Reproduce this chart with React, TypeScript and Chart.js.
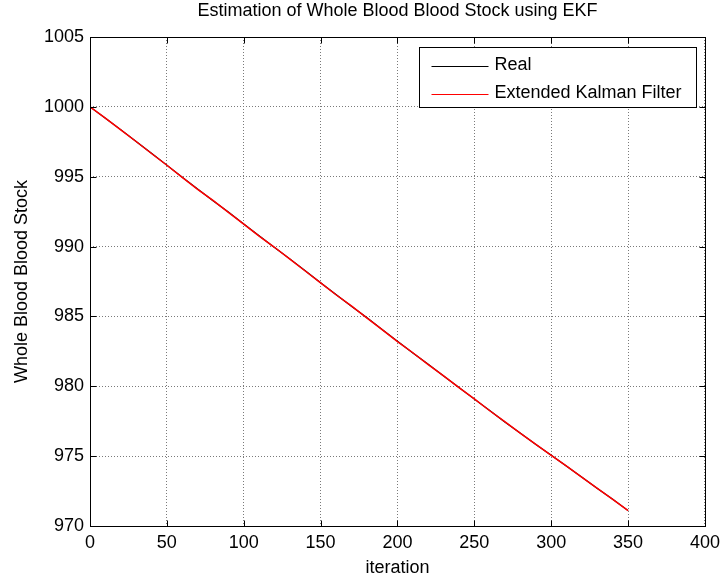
import React, { useEffect, useRef } from "react";
import { Chart, registerables } from "chart.js";

Chart.register(...registerables);

const iterations = [
  0, 10, 20, 30, 40, 50, 60, 70, 80, 90, 100, 110, 120, 130, 140, 150, 160, 170,
  180, 190, 200, 210, 220, 230, 240, 250, 260, 270, 280, 290, 300, 310, 320, 330,
  340, 350,
];

const realStock = [
  1000.0, 999.18, 998.37, 997.52, 996.68, 995.83, 994.96, 994.12, 993.28, 992.47,
  991.61, 990.77, 989.93, 989.12, 988.27, 987.41, 986.57, 985.73, 984.92, 984.06,
  983.22, 982.38, 981.57, 980.73, 979.92, 979.08, 978.27, 977.43, 976.64, 975.84,
  975.06, 974.27, 973.49, 972.69, 971.91, 971.1,
];

const ekfStock = [
  1000.0, 999.2, 998.35, 997.52, 996.66, 995.82, 994.95, 994.1, 993.3, 992.45,
  991.6, 990.75, 989.95, 989.1, 988.25, 987.4, 986.55, 985.75, 984.9, 984.05,
  983.2, 982.4, 981.55, 980.75, 979.9, 979.1, 978.25, 977.45, 976.63, 975.85,
  975.05, 974.28, 973.48, 972.7, 971.9, 971.1,
];

const xTickValues = [0, 50, 100, 150, 200, 250, 300, 350, 400];
const yTickValues = [970, 975, 980, 985, 990, 995, 1000, 1005];

const seriesLabels = ["Real", "Extended Kalman Filter"];
const seriesColors = ["#000000", "#ff0000"];
const titleText = "Estimation of Whole Blood Blood Stock using EKF";
const xAxisLabel = "iteration";
const yAxisLabel = "Whole Blood Blood Stock";

const FONT = "'Liberation Sans', Arial, Helvetica, sans-serif";
const FS = 18;

const matlabFrame = {
  id: "matlabFrame",
  afterDraw(chart: any) {
    const { ctx, chartArea: a, scales } = chart;
    const L = Math.round(a.left) + 0.5;
    const R = Math.round(a.right) + 0.5;
    const T = Math.round(a.top) + 0.5;
    const B = Math.round(a.bottom) + 0.5;
    ctx.save();
    ctx.strokeStyle = "#000";
    ctx.lineWidth = 1;
    ctx.setLineDash([]);
    ctx.strokeRect(L, T, R - L, B - T);
    const tl = 6;
    ctx.beginPath();
    scales.x.ticks.forEach((t: any) => {
      const px = Math.round(scales.x.getPixelForValue(t.value)) + 0.5;
      ctx.moveTo(px, B);
      ctx.lineTo(px, B - tl);
      ctx.moveTo(px, T);
      ctx.lineTo(px, T + tl);
    });
    scales.y.ticks.forEach((t: any) => {
      const py = Math.round(scales.y.getPixelForValue(t.value)) + 0.5;
      ctx.moveTo(L, py);
      ctx.lineTo(L + tl, py);
      ctx.moveTo(R, py);
      ctx.lineTo(R - tl, py);
    });
    ctx.stroke();

    // legend
    ctx.font = `${FS}px ${FONT}`;
    const labels = chart.data.datasets.map((d: any) => d.label);
    const maxW = Math.max(...labels.map((s: string) => ctx.measureText(s).width));
    const padL = 12;
    const lineLen = 57;
    const gap = 6;
    const padR = 15;
    const boxW = padL + lineLen + gap + maxW + padR;
    const boxH = 60;
    const boxRight = Math.round(a.right - 9) + 0.5;
    const boxLeft = Math.round(boxRight - boxW) + 0.5;
    const boxTop = Math.round(a.top + 10) + 0.5;
    ctx.fillStyle = "#fff";
    ctx.fillRect(boxLeft, boxTop, boxRight - boxLeft, boxH);
    ctx.strokeStyle = "#000";
    ctx.strokeRect(boxLeft, boxTop, boxRight - boxLeft, boxH);
    chart.data.datasets.forEach((d: any, i: number) => {
      const cy = boxTop + 18 + i * 28;
      ctx.strokeStyle = d.borderColor;
      ctx.lineWidth = 1;
      ctx.beginPath();
      ctx.moveTo(boxLeft + padL, Math.round(cy) + 0.5);
      ctx.lineTo(boxLeft + padL + lineLen, Math.round(cy) + 0.5);
      ctx.stroke();
      ctx.fillStyle = "#000";
      ctx.textBaseline = "middle";
      ctx.textAlign = "left";
      ctx.fillText(d.label, boxLeft + padL + lineLen + gap, cy);
    });
    ctx.restore();
  },
};

export default function App() {
  const ref = useRef<HTMLCanvasElement | null>(null);

  useEffect(() => {
    document.body.style.margin = "0";
    const canvas = ref.current;
    if (!canvas) return;
    const chart = new Chart(canvas, {
      type: "line",
      data: {
        datasets: [
          {
            label: seriesLabels[0],
            data: iterations.map((x, i) => ({ x, y: realStock[i] })),
            borderColor: seriesColors[0],
            borderWidth: 1.2,
            pointRadius: 0,
            tension: 0,
            order: 1,
          },
          {
            label: seriesLabels[1],
            data: iterations.map((x, i) => ({ x, y: ekfStock[i] })),
            borderColor: seriesColors[1],
            borderWidth: 1.5,
            pointRadius: 0,
            tension: 0,
            order: 0,
          },
        ],
      },
      options: {
        animation: false,
        responsive: false,
        maintainAspectRatio: false,
        layout: { padding: { top: 0, right: 15, left: 0, bottom: 0 } },
        plugins: {
          legend: { display: false },
          tooltip: { enabled: false },
          title: {
            display: true,
            text: titleText,
            color: "#000",
            fullSize: false,
            font: { family: FONT, size: FS, weight: "normal", lineHeight: 1.2 },
            padding: { top: 0, bottom: 15.4 },
          },
        },
        scales: {
          x: {
            type: "linear",
            min: 0,
            max: 400,
            afterBuildTicks: (s: any) => {
              s.ticks = xTickValues.map((v) => ({ value: v }));
            },
            afterFit: (s: any) => {
              s.height = 55;
            },
            grid: { color: "#7a7a7a", lineWidth: 1, drawTicks: false },
            border: { display: false, dash: [1, 2] },
            ticks: {
              color: "#000",
              padding: 6,
              maxRotation: 0,
              autoSkip: false,
              callback: (v: any) => String(v),
              font: { family: FONT, size: FS, lineHeight: 1.2 },
            },
            title: {
              display: true,
              text: xAxisLabel,
              color: "#000",
              font: { family: FONT, size: FS, lineHeight: 1.2 },
              padding: { top: 0, bottom: 2 },
            },
          },
          y: {
            type: "linear",
            min: 970,
            max: 1005,
            afterBuildTicks: (s: any) => {
              s.ticks = yTickValues.map((v) => ({ value: v }));
            },
            afterFit: (s: any) => {
              s.width = 90;
            },
            grid: { color: "#7a7a7a", lineWidth: 1, drawTicks: false },
            border: { display: false, dash: [1, 2] },
            ticks: {
              color: "#000",
              padding: 6,
              autoSkip: false,
              callback: (v: any) => String(v),
              font: { family: FONT, size: FS, lineHeight: 1.2 },
            },
            title: {
              display: true,
              text: yAxisLabel,
              color: "#000",
              font: { family: FONT, size: FS, lineHeight: 1.2 },
              padding: { top: 11, bottom: 0 },
            },
          },
        },
      },
      plugins: [matlabFrame],
    } as any);
    return () => chart.destroy();
  }, []);

  return (
    <div style={{ width: 726, height: 581, background: "#fff" }}>
      <canvas ref={ref} width={726} height={581} style={{ display: "block" }} />
    </div>
  );
}
